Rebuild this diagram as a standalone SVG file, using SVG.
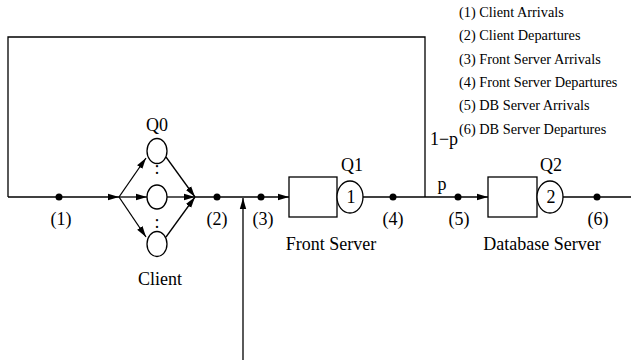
<svg xmlns="http://www.w3.org/2000/svg" width="631" height="360" viewBox="0 0 631 360">
  <style>
    .ln { fill: none; stroke: #000; stroke-width: 1.3; }
    .arr { marker-end: url(#ah); }
    .shape { fill: #fff; stroke: #000; stroke-width: 1.3; }
    .dot { fill: #000; }
    text { font-family: "Liberation Serif", "Times New Roman", serif; fill: #000; }
    .lbl { font-size: 18px; text-anchor: middle; }
    .leg { font-size: 14.3px; }
  </style>
  <defs>
    <marker id="ah" markerUnits="userSpaceOnUse" markerWidth="12" markerHeight="8" refX="11" refY="4" orient="auto">
      <path d="M0,0.8 L11,4 L0,7.2 Z" fill="#000"/>
    </marker>
  </defs>

  <rect width="631" height="360" fill="#fff"/>

  <!-- connectors -->
  <g id="connectors">
    <!-- feedback loop (1-p) -->
    <polyline class="ln" points="425,197 425,37 8,37 8,197"/>
    <!-- arrivals into client -->
    <line class="ln arr" x1="8" y1="197" x2="119" y2="197"/>
    <!-- fan-out to client threads -->
    <line class="ln arr" x1="119" y1="197" x2="146" y2="158"/>
    <line class="ln arr" x1="119" y1="197" x2="147" y2="197"/>
    <line class="ln arr" x1="119" y1="197" x2="146" y2="237"/>
    <!-- fan-in from client threads -->
    <line class="ln arr" x1="166" y1="157" x2="195" y2="197"/>
    <line class="ln arr" x1="167" y1="197" x2="195" y2="197"/>
    <line class="ln arr" x1="166" y1="237" x2="195" y2="197"/>
    <!-- client to front server -->
    <line class="ln arr" x1="195" y1="197" x2="289" y2="197"/>
    <!-- external arrivals -->
    <line class="ln arr" x1="243" y1="360" x2="243" y2="198"/>
    <!-- front server to DB server -->
    <line class="ln arr" x1="363" y1="197" x2="488" y2="197"/>
    <!-- DB server out -->
    <line class="ln" x1="563" y1="197" x2="631" y2="197"/>
  </g>

  <!-- measurement points -->
  <g id="points">
    <circle class="dot" cx="59" cy="197" r="3.5"/>
    <circle class="dot" cx="217" cy="197" r="3.5"/>
    <circle class="dot" cx="261" cy="197" r="3.5"/>
    <circle class="dot" cx="393" cy="197" r="3.5"/>
    <circle class="dot" cx="458" cy="197" r="3.5"/>
    <circle class="dot" cx="597" cy="197" r="3.5"/>
    <text class="lbl" x="61" y="225">(1)</text>
    <text class="lbl" x="217" y="225">(2)</text>
    <text class="lbl" x="263" y="225">(3)</text>
    <text class="lbl" x="393" y="225">(4)</text>
    <text class="lbl" x="459" y="225">(5)</text>
    <text class="lbl" x="598" y="225">(6)</text>
  </g>

  <!-- client: Q0 -->
  <g id="client">
    <ellipse class="shape" cx="157" cy="151" rx="10" ry="12.5"/>
    <ellipse class="shape" cx="157" cy="197" rx="10" ry="12"/>
    <ellipse class="shape" cx="157" cy="244" rx="10" ry="12.5"/>
    <text class="lbl" x="157" y="174">:</text>
    <text class="lbl" x="157" y="228">:</text>
    <text class="lbl" x="157" y="131">Q0</text>
    <text class="lbl" x="160" y="285">Client</text>
  </g>

  <!-- front server: Q1 -->
  <g id="front-server">
    <rect class="shape" x="289" y="177" width="48" height="40"/>
    <ellipse class="shape" cx="350" cy="197" rx="13" ry="16"/>
    <text class="lbl" x="351" y="203">1</text>
    <text class="lbl" x="352" y="171">Q1</text>
    <text class="lbl" x="331" y="250">Front Server</text>
  </g>

  <!-- database server: Q2 -->
  <g id="db-server">
    <rect class="shape" x="488" y="177" width="49" height="40"/>
    <ellipse class="shape" cx="550" cy="197" rx="13" ry="16"/>
    <text class="lbl" x="551" y="203">2</text>
    <text class="lbl" x="551" y="171">Q2</text>
    <text class="lbl" x="542" y="250">Database Server</text>
  </g>

  <!-- routing probabilities -->
  <g id="routing">
    <text class="lbl" x="444" y="145">1−p</text>
    <text class="lbl" x="442" y="190">p</text>
  </g>

  <!-- legend -->
  <g id="legend">
    <text class="leg" x="459" y="17">(1) Client Arrivals</text>
    <text class="leg" x="459" y="40">(2) Client Departures</text>
    <text class="leg" x="459" y="64">(3) Front Server Arrivals</text>
    <text class="leg" x="459" y="87">(4) Front Server Departures</text>
    <text class="leg" x="459" y="110">(5) DB Server Arrivals</text>
    <text class="leg" x="459" y="134">(6) DB Server Departures</text>
  </g>
</svg>
